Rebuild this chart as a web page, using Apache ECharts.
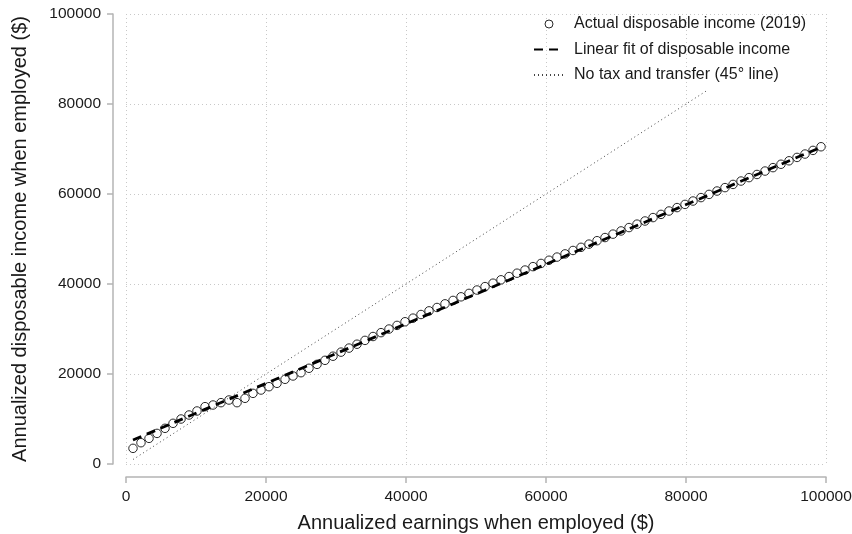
<!DOCTYPE html>
<html>
<head>
<meta charset="utf-8">
<script src="https://cdn.jsdelivr.net/npm/echarts@6/dist/echarts.min.js"></script>
<style>html,body{margin:0;padding:0;background:#fff;}#c{width:852px;height:534px;}</style>
</head>
<body>
<div id="c"></div>
<script>
// Annualized earnings (x) of each binned point
const earnings = [1000, 2140, 3290, 4430, 5570, 6720, 7860, 9000, 10140, 11290, 12430, 13570, 14710, 15860, 17000, 18140, 19290, 20430, 21570, 22720, 23860, 25000, 26140, 27290, 28430, 29570, 30720, 31860, 33000, 34140, 35290, 36430, 37570, 38720, 39860, 41000, 42140, 43290, 44430, 45570, 46720, 47860, 49000, 50140, 51290, 52430, 53570, 54720, 55860, 57000, 58140, 59290, 60430, 61570, 62720, 63860, 65000, 66140, 67290, 68430, 69570, 70720, 71860, 73000, 74140, 75290, 76430, 77570, 78720, 79860, 81000, 82140, 83290, 84430, 85570, 86720, 87860, 89000, 90140, 91290, 92430, 93570, 94720, 95860, 97000, 98140, 99290];
// Actual disposable income (2019)
const disposable = [3480, 4730, 5700, 6800, 7930, 9040, 10000, 10890, 11780, 12740, 13110, 13630, 14220, 13630, 14600, 15700, 16440, 17180, 17930, 18820, 19560, 20290, 21270, 22140, 23040, 23950, 24860, 25760, 26620, 27470, 28330, 29190, 29990, 30800, 31610, 32410, 33220, 34030, 34780, 35590, 36350, 37150, 37910, 38660, 39420, 40180, 40930, 41650, 42400, 43100, 43860, 44570, 45280, 45980, 46690, 47450, 48150, 48860, 49620, 50320, 51080, 51790, 52540, 53300, 54000, 54760, 55470, 56220, 56980, 57690, 58440, 59200, 59910, 60660, 61420, 62130, 62880, 63640, 64340, 65100, 65860, 66610, 67380, 68130, 68880, 69690, 70500];
// Linear fit endpoints
const fitX = [1000, 99290];
const fitY = [5330, 70400];
// 45 degree line endpoints
const diagX = [1000, 83000];
const diagY = [1000, 83000];
// Axis ticks
const xTicks = [0, 20000, 40000, 60000, 80000, 100000];
const yTicks = [0, 20000, 40000, 60000, 80000, 100000];
const seriesNames = ['Actual disposable income (2019)', 'Linear fit of disposable income', 'No tax and transfer (45° line)'];
const xName = 'Annualized earnings when employed ($)';
const yName = 'Annualized disposable income when employed ($)';

const FONT = '"Liberation Sans", Arial, Helvetica, sans-serif';
const zip = (a, b) => a.map((v, i) => [v, b[i]]);

const chart = echarts.init(document.getElementById('c'), null, {renderer: 'canvas'});
const axisCommon = {
  type: 'value',
  offset: 13,
  axisLine: {show: true, onZero: false, lineStyle: {color: '#b4b4b4', width: 1.5}},
  axisTick: {show: true, length: 6, lineStyle: {color: '#b4b4b4', width: 1.5}},
  splitLine: {show: true, lineStyle: {color: '#c8c8c8', width: 1, type: [1, 3]}},
  axisLabel: {color: '#1a1a1a', fontSize: 15.5, fontFamily: FONT, margin: 12, formatter: v => String(v)},
  nameLocation: 'middle',
  nameTextStyle: {color: '#1a1a1a', fontSize: 20, fontFamily: FONT}
};
const hiddenSym = {color: 'transparent', borderWidth: 0, opacity: 0};
chart.setOption({
  animation: false,
  backgroundColor: '#fff',
  grid: {left: 126, right: 26, top: 14, bottom: 70, containLabel: false, outerBoundsMode: 'none'},
  legend: {
    orient: 'vertical', left: 528, top: 11, itemWidth: 30, itemHeight: 8, itemGap: 9.5,
    textStyle: {color: '#1a1a1a', fontSize: 16, fontFamily: FONT, padding: [0, 0, 0, 5]},
    data: [
      {name: seriesNames[0], itemStyle: {color: '#fff', borderColor: '#111', borderWidth: 0.9}},
      {name: seriesNames[1], itemStyle: hiddenSym},
      {name: seriesNames[2], itemStyle: hiddenSym}
    ]
  },
  xAxis: Object.assign({}, axisCommon, {
    min: xTicks[0], max: xTicks[xTicks.length - 1], interval: xTicks[1] - xTicks[0],
    name: xName, nameGap: 36
  }),
  yAxis: Object.assign({}, axisCommon, {
    min: yTicks[0], max: yTicks[yTicks.length - 1], interval: yTicks[1] - yTicks[0],
    name: yName, nameGap: 83, nameRotate: 90
  }),
  series: [
    {
      name: seriesNames[0], type: 'scatter', data: zip(earnings, disposable),
      symbol: 'circle', symbolSize: 8.5,
      itemStyle: {color: '#ffffff', borderColor: '#111', borderWidth: 0.9, opacity: 1},
      z: 2
    },
    {
      name: seriesNames[1], type: 'line', data: zip(fitX, fitY),
      showSymbol: false, symbol: 'none', color: '#000',
      lineStyle: {color: '#000', width: 2.8, type: [9, 6]},
      z: 3
    },
    {
      name: seriesNames[2], type: 'line', data: zip(diagX, diagY),
      showSymbol: false, symbol: 'none', color: '#444',
      lineStyle: {color: '#444', width: 1, type: [1, 3]},
      z: 4
    }
  ]
});
</script>
</body>
</html>
